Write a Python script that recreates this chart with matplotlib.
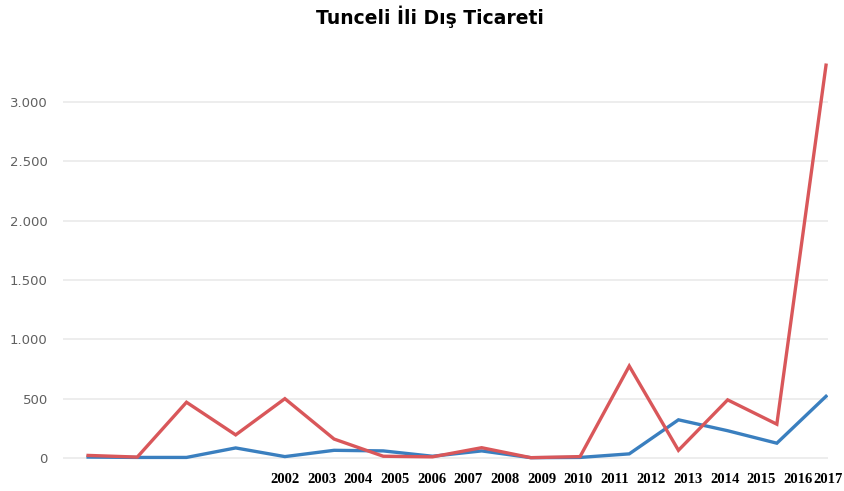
import numpy as np
import matplotlib.pyplot as plt
import matplotlib.transforms as mtransforms

# values (thousand separator is '.')
years = list(range(2002, 2018))
red_vals = [22, 8, 470, 195, 500, 160, 15, 10, 87, 3, 12, 775, 65, 490, 285, 3310]
blue_vals = [8, 5, 5, 85, 12, 65, 60, 15, 60, 3, 5, 35, 322, 230, 125, 520]
y_ticks = [0, 500, 1000, 1500, 2000, 2500, 3000]

W, H = 845, 491
fig = plt.figure(figsize=(W / 100, H / 100), dpi=100)

# main plot area
ax = fig.add_axes([63 / W, 1 - 460.4 / H, 765 / W, 400 / H])
x = np.arange(len(years))
ax.plot(x, blue_vals, color='#3a7fbf', lw=2.4, solid_joinstyle='miter', zorder=3)
ax.plot(x, red_vals, color='#d9575a', lw=2.4, solid_joinstyle='miter', zorder=4)

ax.set_xlim(-0.51, 15.04)
ax.set_ylim(-20, 3350)
ax.set_yticks(y_ticks)
ax.set_yticklabels([f'{v:,}'.replace(',', '.') for v in y_ticks],
                   color='#606060', fontsize=9.5, family='DejaVu Sans')
ax.tick_params(axis='y', length=0, pad=11)
ax.set_xticks([])
ax.grid(axis='y', color='#e8e8e8', lw=1.1, zorder=0)
for s in ax.spines.values():
    s.set_visible(False)

# year labels sit on their own scale below the plot
lab = fig.add_axes([63 / W, 1 - 460.4 / H, (W - 63) / W, 0.0001])
step = 36.64
start = 2002 - (285 - 63) / step
lab.set_xlim(start, start + (W - 63) / step)
lab.set_xticks(years)
lab.set_xticklabels([str(y) for y in years], family='Liberation Serif',
                    fontweight='bold', fontsize=10.5, color='black')
lab.tick_params(axis='x', length=0, pad=9)
lab.set_yticks([])
lab.patch.set_visible(False)
for s in lab.spines.values():
    s.set_visible(False)
last = lab.get_xticklabels()[-1]
last.set_transform(last.get_transform() +
                   mtransforms.ScaledTranslation(-7 / 100, 0, fig.dpi_scale_trans))

fig.text(430 / W, 1 - 17 / H, 'Tunceli İli Dış Ticareti', ha='center', va='center',
         fontsize=13.5, fontweight='bold', family='DejaVu Sans')

fig.savefig('out.png', dpi=100)
